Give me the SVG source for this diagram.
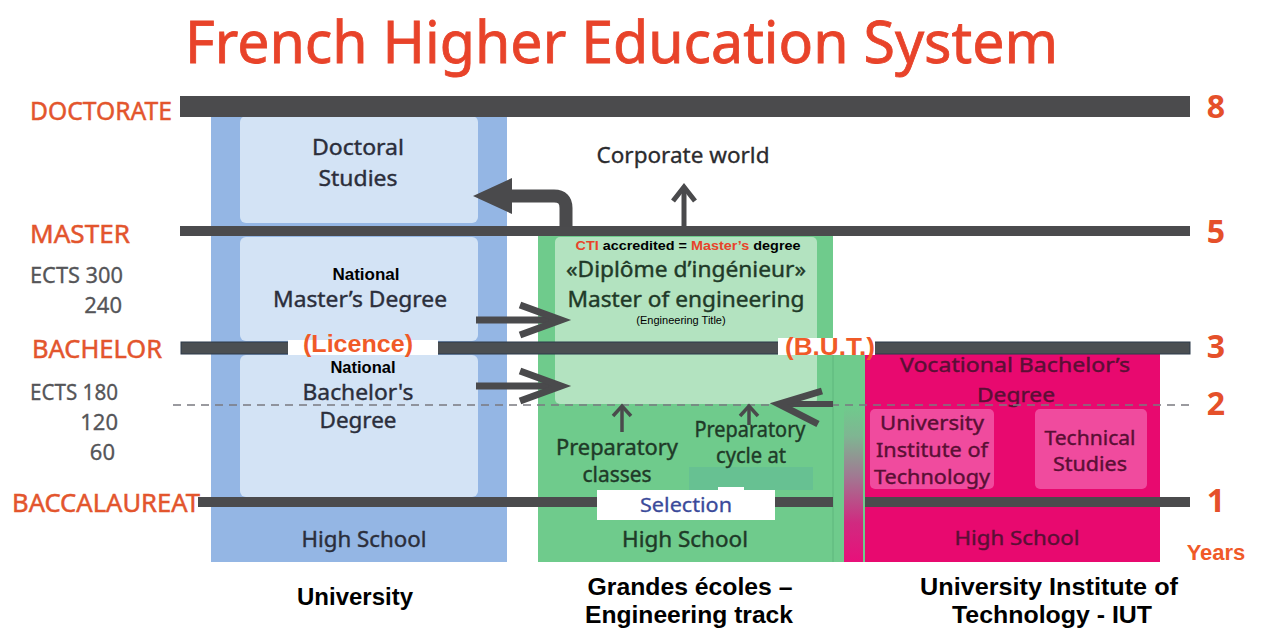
<svg xmlns="http://www.w3.org/2000/svg" width="1261" height="630" viewBox="0 0 1261 630">
<defs>
<style>
.t{font-family:"Noto Sans","DejaVu Sans",sans-serif;}
.ar{font-family:"Liberation Sans",Arial,sans-serif;}
.lab{font-family:"Noto Sans","DejaVu Sans",sans-serif;fill:#e3552d;stroke:#e3552d;stroke-width:0.5;font-size:26px;}
.ects{font-family:"Noto Sans","DejaVu Sans",sans-serif;fill:#555558;stroke:#555558;stroke-width:0.3;font-size:22px;}
.num{font-family:"Noto Sans","DejaVu Sans",sans-serif;fill:#e5502a;font-size:32px;font-weight:bold;}
.bar{fill:#4b4b4d;}
.uc{fill:#2b2e3b;stroke:#2b2e3b;stroke-width:0.4;font-size:22px;}
.gc{fill:#1f3a28;stroke:#1f3a28;stroke-width:0.4;font-size:21px;}
.pc{fill:#5a0f35;stroke:#5a0f35;stroke-width:0.4;font-size:20px;}
.arr{stroke:#4a4a4c;fill:none;stroke-linecap:butt;stroke-linejoin:miter;}
.foot{font-family:"Liberation Sans",Arial,sans-serif;font-weight:bold;fill:#000;font-size:23px;}
</style>
<linearGradient id="strip" x1="0" y1="0" x2="0" y2="1">
<stop offset="0" stop-color="#6fcb8c"/>
<stop offset="0.2" stop-color="#7fb592"/>
<stop offset="0.45" stop-color="#a07a92"/>
<stop offset="0.75" stop-color="#d02a80"/>
<stop offset="1" stop-color="#e8107a"/>
</linearGradient>
</defs>
<rect width="1261" height="630" fill="#ffffff"/>

<g id="title">
<text class="t" x="185" y="63" font-size="58" fill="#e8432a" stroke="#e8432a" stroke-width="0.8" textLength="873" lengthAdjust="spacingAndGlyphs">French Higher Education System</text>
</g>

<g id="university">
<rect x="211" y="116" width="296" height="446" fill="#94b6e4"/>
<rect x="240" y="116" width="238" height="107" rx="6" fill="#d3e3f5"/>
<rect x="240" y="237" width="238" height="104" rx="6" fill="#d3e3f5"/>
<rect x="240" y="355" width="238" height="142" rx="6" fill="#d3e3f5"/>
<text class="t uc" x="358" y="155" text-anchor="middle" textLength="92" lengthAdjust="spacingAndGlyphs">Doctoral</text>
<text class="t uc" x="358" y="186" text-anchor="middle" textLength="79" lengthAdjust="spacingAndGlyphs">Studies</text>
<text class="ar" x="366" y="280" font-size="17" font-weight="bold" fill="#000" text-anchor="middle">National</text>
<text class="t uc" x="360" y="307" text-anchor="middle" textLength="174" lengthAdjust="spacingAndGlyphs">Master’s Degree</text>
<text class="ar" x="363" y="373" font-size="16.5" font-weight="bold" fill="#000" text-anchor="middle">National</text>
<text class="t uc" x="358" y="400" font-size="21" text-anchor="middle" textLength="111" lengthAdjust="spacingAndGlyphs">Bachelor's</text>
<text class="t uc" x="358" y="428" text-anchor="middle" textLength="77" lengthAdjust="spacingAndGlyphs">Degree</text>
<text class="t uc" x="364" y="547" text-anchor="middle" textLength="125" lengthAdjust="spacingAndGlyphs">High School</text>
</g>

<g id="corporate">
<text class="t" x="683" y="163" font-size="21" fill="#2b2b2e" stroke="#2b2b2e" stroke-width="0.3" text-anchor="middle" textLength="173" lengthAdjust="spacingAndGlyphs">Corporate world</text>
</g>

<g id="grandes-ecoles">
<rect x="538" y="232" width="295" height="330" fill="#6fcb8c"/>
<rect x="555" y="237" width="262" height="167" rx="5" fill="#b3e3c0"/>
<rect x="689" y="467" width="124" height="23" fill="#67c192"/>
<text class="ar" x="688" y="250" font-size="12.5" font-weight="bold" text-anchor="middle" textLength="225" lengthAdjust="spacingAndGlyphs"><tspan fill="#e8432a">CTI</tspan><tspan fill="#000"> accredited = </tspan><tspan fill="#e8432a">Master’s</tspan><tspan fill="#000"> degree</tspan></text>
<text class="t gc" x="686" y="277" text-anchor="middle" textLength="240" lengthAdjust="spacingAndGlyphs">«Diplôme d’ingénieur»</text>
<text class="t gc" x="686" y="307" font-size="22" text-anchor="middle" textLength="237" lengthAdjust="spacingAndGlyphs">Master of engineering</text>
<text class="ar" x="681" y="324" font-size="11" fill="#000" text-anchor="middle">(Engineering Title)</text>
<text class="t gc" x="617" y="455" font-size="20" text-anchor="middle" textLength="122" lengthAdjust="spacingAndGlyphs">Preparatory</text>
<text class="t gc" x="617" y="482" font-size="20" text-anchor="middle" textLength="69" lengthAdjust="spacingAndGlyphs">classes</text>
<text class="t gc" x="750" y="437" font-size="19" text-anchor="middle" textLength="111" lengthAdjust="spacingAndGlyphs">Preparatory</text>
<text class="t gc" x="751" y="463" font-size="19" text-anchor="middle" textLength="70" lengthAdjust="spacingAndGlyphs">cycle at</text>
<text class="t gc" x="685" y="547" font-size="22" text-anchor="middle" textLength="126" lengthAdjust="spacingAndGlyphs">High School</text>
</g>

<g id="strip-divider">
<rect x="833" y="354" width="32" height="208" fill="#6fcb8c"/>
<rect x="844" y="405" width="19" height="157" fill="url(#strip)"/>
<line x1="833" y1="354" x2="833" y2="562" stroke="#5fb67d" stroke-width="1"/>
</g>

<g id="iut">
<rect x="865" y="354" width="295" height="208" fill="#e8096f"/>
<rect x="870" y="409" width="124" height="80" rx="5" fill="#f04b9e"/>
<rect x="1035" y="409" width="112" height="80" rx="5" fill="#f04b9e"/>
<text class="t pc" x="1015" y="372" font-size="21" text-anchor="middle" textLength="230" lengthAdjust="spacingAndGlyphs">Vocational Bachelor’s</text>
<text class="t pc" x="1016" y="402" font-size="21" text-anchor="middle" textLength="78" lengthAdjust="spacingAndGlyphs">Degree</text>
<text class="t pc" x="932" y="430" text-anchor="middle" textLength="104" lengthAdjust="spacingAndGlyphs">University</text>
<text class="t pc" x="932" y="457" text-anchor="middle" textLength="112" lengthAdjust="spacingAndGlyphs">Institute of</text>
<text class="t pc" x="932" y="484" text-anchor="middle" textLength="116" lengthAdjust="spacingAndGlyphs">Technology</text>
<text class="t pc" x="1090" y="445" text-anchor="middle" textLength="91" lengthAdjust="spacingAndGlyphs">Technical</text>
<text class="t pc" x="1090" y="471" text-anchor="middle" textLength="74" lengthAdjust="spacingAndGlyphs">Studies</text>
<text class="t pc" x="1017" y="545" font-size="21" text-anchor="middle" textLength="125" lengthAdjust="spacingAndGlyphs">High School</text>
</g>

<g id="levels">
<rect class="bar" x="180" y="96" width="1010" height="21"/>
<rect class="bar" x="180" y="226" width="1010" height="10"/>
<rect x="181" y="342" width="1009" height="12" fill="#4b4f52" stroke="#2c3a4a" stroke-width="1"/>
<rect x="288" y="340" width="150" height="15" fill="#ffffff"/>
<rect x="778" y="338" width="97" height="17" fill="#ffffff"/>
<line x1="173" y1="405" x2="1190" y2="405" stroke="#7a7a80" stroke-width="1.5" stroke-dasharray="8 6"/>
<rect class="bar" x="198" y="497" width="635" height="10"/>
<rect class="bar" x="865" y="497" width="325" height="10"/>
<rect x="597" y="490" width="178" height="30" fill="#ffffff"/>
<rect x="718" y="487" width="26" height="5" fill="#ffffff"/>
<text class="t" x="686" y="512" font-size="20" fill="#3a4a9a" stroke="#3a4a9a" stroke-width="0.3" text-anchor="middle" textLength="92" lengthAdjust="spacingAndGlyphs">Selection</text>
<text class="ar" x="358" y="352" font-size="23" font-weight="bold" fill="#f05a28" text-anchor="middle" textLength="110" lengthAdjust="spacingAndGlyphs">(Licence)</text>
<text class="ar" x="830" y="355" font-size="24" font-weight="bold" fill="#f05a28" text-anchor="middle" textLength="90" lengthAdjust="spacingAndGlyphs">(B.U.T.)</text>
</g>

<g id="connectors">
<path class="arr" d="M476 320 H558" stroke-width="7"/>
<path class="arr" d="M520 305 L561 320 L520 335" stroke-width="7"/>
<path class="arr" d="M476 386 H558" stroke-width="7"/>
<path class="arr" d="M520 371 L561 386 L520 401" stroke-width="7"/>
<path class="arr" d="M566 227 V208 Q566 196 554 196 H505" stroke-width="13"/>
<polygon points="473,196 512,178 512,214" fill="#4a4a4c"/>
<path class="arr" d="M684 226 V189" stroke-width="5"/>
<path class="arr" d="M673 201 L684 187 L695 201" stroke-width="5"/>
<path class="arr" d="M622 432 V408" stroke-width="3.5"/>
<path class="arr" d="M613 416 L622 406 L631 416" stroke-width="3.5"/>
<path class="arr" d="M749 425 V408" stroke-width="3.5"/>
<path class="arr" d="M740 416 L749 406 L758 416" stroke-width="3.5"/>
<path class="arr" d="M833 404 H782" stroke-width="6"/>
<path class="arr" d="M822 391 L779 404 L818 424" stroke-width="7"/>
</g>

<g id="scale-left">
<text class="lab" x="30" y="120" textLength="142" lengthAdjust="spacingAndGlyphs">DOCTORATE</text>
<text class="lab" x="30" y="243" textLength="100" lengthAdjust="spacingAndGlyphs">MASTER</text>
<text class="ects" x="123" y="283" text-anchor="end" textLength="93" lengthAdjust="spacingAndGlyphs">ECTS 300</text>
<text class="ects" x="122" y="313" text-anchor="end">240</text>
<text class="lab" x="32" y="358" textLength="130" lengthAdjust="spacingAndGlyphs">BACHELOR</text>
<text class="ects" x="118" y="400" text-anchor="end" textLength="88" lengthAdjust="spacingAndGlyphs">ECTS 180</text>
<text class="ects" x="118" y="430" text-anchor="end">120</text>
<text class="ects" x="115" y="460" text-anchor="end">60</text>
<text class="lab" x="12" y="512" textLength="188" lengthAdjust="spacingAndGlyphs">BACCALAUREAT</text>
</g>

<g id="scale-right">
<text class="num" x="1216" y="118" text-anchor="middle">8</text>
<text class="num" x="1216" y="243" text-anchor="middle">5</text>
<text class="num" x="1216" y="358" text-anchor="middle">3</text>
<text class="num" x="1216" y="415" text-anchor="middle">2</text>
<text class="num" x="1216" y="512" text-anchor="middle">1</text>
<text class="ar" x="1216" y="560" font-size="22" font-weight="bold" fill="#f05a28" text-anchor="middle">Years</text>
</g>

<g id="footer">
<text class="foot" x="355" y="605" text-anchor="middle" textLength="116" lengthAdjust="spacingAndGlyphs">University</text>
<text class="foot" x="690" y="595" text-anchor="middle" textLength="205" lengthAdjust="spacingAndGlyphs">Grandes écoles –</text>
<text class="foot" x="689" y="623" text-anchor="middle" textLength="208" lengthAdjust="spacingAndGlyphs">Engineering track</text>
<text class="foot" x="1049" y="595" text-anchor="middle" textLength="258" lengthAdjust="spacingAndGlyphs">University Institute of</text>
<text class="foot" x="1052" y="623" text-anchor="middle" textLength="200" lengthAdjust="spacingAndGlyphs">Technology - IUT</text>
</g>
</svg>
